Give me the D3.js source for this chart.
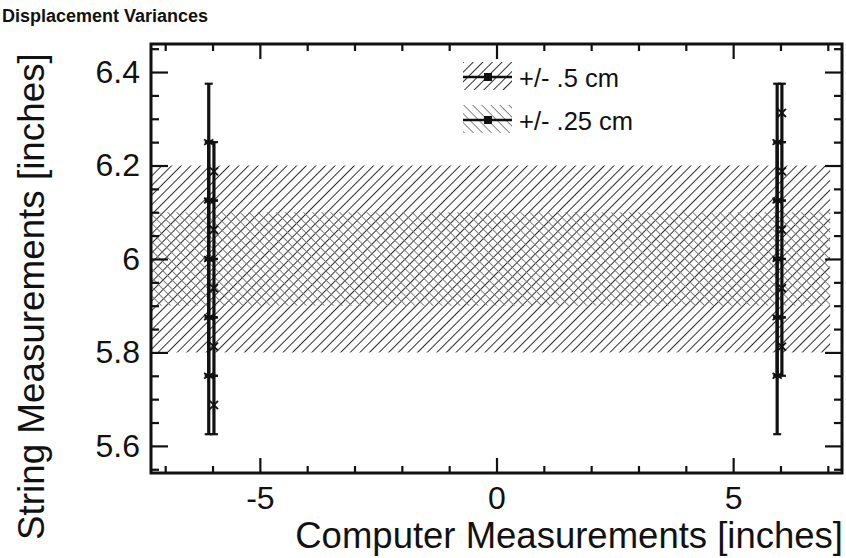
<!DOCTYPE html>
<html>
<head>
<meta charset="utf-8">
<script src="https://cdn.jsdelivr.net/npm/d3@7"></script>
<style>
  body { margin: 0; background: #fff; }
  svg { font-family: "Liberation Sans", Arial, Helvetica, sans-serif; }
</style>
</head>
<body>
<div id="chart"></div>
<script>
const WIDTH = 846;
const HEIGHT = 558;
const margin = {top: 44, right: 4, bottom: 85, left: 151};

// data
const xMajorTicks = [-5, 0, 5];
const xMinorTicks = [-7, -6, -4, -3, -2, -1, 1, 2, 3, 4, 6, 7];
const yMajorTicks = [5.6, 5.8, 6.0, 6.2, 6.4];
const yMinorTicks = [5.55, 5.65, 5.7, 5.75, 5.85, 5.9, 5.95, 6.05, 6.1, 6.15, 6.25, 6.3, 6.35, 6.45];

const halfCmBand = [5.8, 6.2];
const quarterCmBand = [5.9, 6.1];
const bandXExtent = [-7.3, 7.05];

const halfCmX = [-6.08, -6.08, -6.08, -6.08, -6.08, 5.93, 5.93, 5.93, 5.93, 5.93];
const halfCmY = [6.25, 6.125, 6.0, 5.875, 5.75, 6.25, 6.125, 6.0, 5.875, 5.75];
const halfCmErr = [0.125, 0.125, 0.125, 0.125, 0.125, 0.125, 0.125, 0.125, 0.125, 0.125];

const quarterCmX = [-5.97, -5.97, -5.97, -5.97, -5.97, 6.03, 6.03, 6.03, 6.03, 6.03];
const quarterCmY = [6.1875, 6.0625, 5.9375, 5.8125, 5.6875, 6.3125, 6.1875, 6.0625, 5.9375, 5.8125];
const quarterCmErr = [0.0625, 0.0625, 0.0625, 0.0625, 0.0625, 0.0625, 0.0625, 0.0625, 0.0625, 0.0625];

const legendLabels = ['+/- .5 cm', '+/- .25 cm'];

const svg = d3.select('#chart').append('svg')
    .attr('width', WIDTH)
    .attr('height', HEIGHT);

const x = d3.scaleLinear().domain([-7.3, 7.3]).range([margin.left, WIDTH - margin.right]);
const y = d3.scaleLinear().domain([5.542, 6.46]).range([HEIGHT - margin.bottom, margin.top]);

// hatch patterns
const defs = svg.append('defs');
function hatch(id, angle, color, gap, width){
    const p = defs.append('pattern')
        .attr('id', id)
        .attr('patternUnits', 'userSpaceOnUse')
        .attr('width', gap)
        .attr('height', gap)
        .attr('patternTransform', `rotate(${angle})`);
    p.append('line')
        .attr('x1', 0).attr('y1', 0)
        .attr('x2', 0).attr('y2', gap)
        .attr('stroke', color)
        .attr('stroke-width', width);
}
hatch('hatch-half', 45, '#262626', 6.8, 1.9);
hatch('hatch-quarter', -45, '#7a7a7a', 6.4, 1.8);

// bands
svg.append('rect')
    .attr('x', x(bandXExtent[0]))
    .attr('width', x(bandXExtent[1]) - x(bandXExtent[0]))
    .attr('y', y(halfCmBand[1]))
    .attr('height', y(halfCmBand[0]) - y(halfCmBand[1]))
    .attr('fill', 'url(#hatch-half)');

svg.append('rect')
    .attr('x', x(bandXExtent[0]))
    .attr('width', x(bandXExtent[1]) - x(bandXExtent[0]))
    .attr('y', y(quarterCmBand[1]))
    .attr('height', y(quarterCmBand[0]) - y(quarterCmBand[1]))
    .attr('fill', 'url(#hatch-quarter)');

// error bars
function errorBars(xs, ys, errs, marker){
    const data = xs.map((d, i) => ({x: d, y: ys[i], e: errs[i]}));
    const g = svg.append('g');
    g.selectAll('line.bar').data(data).join('line')
        .attr('class', 'bar')
        .attr('x1', d => x(d.x)).attr('x2', d => x(d.x))
        .attr('y1', d => y(d.y + d.e)).attr('y2', d => y(d.y - d.e))
        .attr('stroke', '#111')
        .attr('stroke-width', 3.2);
    g.selectAll('line.cap').data(data.flatMap(d => [{x: d.x, y: d.y + d.e}, {x: d.x, y: d.y - d.e}])).join('line')
        .attr('class', 'cap')
        .attr('x1', d => x(d.x) - 4).attr('x2', d => x(d.x) + 4)
        .attr('y1', d => y(d.y)).attr('y2', d => y(d.y))
        .attr('stroke', '#111')
        .attr('stroke-width', 2.2);
    g.selectAll('path').data(data).join('path')
        .attr('transform', d => `translate(${x(d.x)},${y(d.y)})`)
        .attr('d', marker)
        .attr('fill', '#111')
        .attr('stroke', '#111')
        .attr('stroke-width', 1.8);
}
errorBars(halfCmX, halfCmY, halfCmErr, d3.symbol(d3.symbolAsterisk, 80)());
errorBars(quarterCmX, quarterCmY, quarterCmErr, d3.symbol(d3.symbolTimes, 45)());

// axes
const bottom = HEIGHT - margin.bottom;
const right = WIDTH - margin.right;

function styleAxis(g){
    g.select('.domain').remove();
    g.selectAll('.tick line').attr('stroke', '#111').attr('stroke-width', 2.2);
    g.selectAll('.tick text').attr('fill', '#111').attr('font-size', 32);
}

svg.append('g').attr('transform', `translate(0,${bottom})`)
    .call(d3.axisBottom(x).tickValues(xMajorTicks).tickSize(-15).tickPadding(13).tickFormat(d => String(d)))
    .call(styleAxis);
svg.append('g').attr('transform', `translate(0,${bottom})`)
    .call(d3.axisBottom(x).tickValues(xMinorTicks).tickSize(-7).tickFormat(''))
    .call(styleAxis);
svg.append('g').attr('transform', `translate(0,${margin.top})`)
    .call(d3.axisTop(x).tickValues(xMajorTicks).tickSize(-15).tickFormat(''))
    .call(styleAxis);
svg.append('g').attr('transform', `translate(0,${margin.top})`)
    .call(d3.axisTop(x).tickValues(xMinorTicks).tickSize(-7).tickFormat(''))
    .call(styleAxis);

svg.append('g').attr('transform', `translate(${margin.left},0)`)
    .call(d3.axisLeft(y).tickValues(yMajorTicks).tickSize(-17).tickPadding(11).tickFormat(d => String(d)))
    .call(styleAxis);
svg.append('g').attr('transform', `translate(${margin.left},0)`)
    .call(d3.axisLeft(y).tickValues(yMinorTicks).tickSize(-8).tickFormat(''))
    .call(styleAxis);
svg.append('g').attr('transform', `translate(${right},0)`)
    .call(d3.axisRight(y).tickValues(yMajorTicks).tickSize(-17).tickFormat(''))
    .call(styleAxis);
svg.append('g').attr('transform', `translate(${right},0)`)
    .call(d3.axisRight(y).tickValues(yMinorTicks).tickSize(-8).tickFormat(''))
    .call(styleAxis);

// frame
svg.append('rect')
    .attr('x', margin.left)
    .attr('y', margin.top)
    .attr('width', right - margin.left)
    .attr('height', bottom - margin.top)
    .attr('fill', 'none')
    .attr('stroke', '#111')
    .attr('stroke-width', 3);

// legend
const legend = svg.append('g').attr('transform', 'translate(463,62)');
const legendFills = ['url(#hatch-half)', 'url(#hatch-quarter)'];
const legendRows = legend.selectAll('g').data(legendLabels).join('g')
    .attr('transform', (d, i) => `translate(0,${i * 43})`);
legendRows.append('rect')
    .attr('width', 49).attr('height', 28)
    .attr('fill', (d, i) => legendFills[i]);
legendRows.append('line')
    .attr('x1', 0).attr('x2', 49)
    .attr('y1', 15).attr('y2', 15)
    .attr('stroke', '#111').attr('stroke-width', 2.6);
legendRows.append('rect')
    .attr('x', 21).attr('y', 11).attr('width', 8).attr('height', 8)
    .attr('fill', '#111');
legendRows.append('text')
    .attr('x', 56).attr('y', 25)
    .attr('font-size', 25.5)
    .attr('fill', '#111')
    .text(d => d);

// titles
svg.append('text')
    .attr('x', 2).attr('y', 22)
    .attr('font-size', 18)
    .attr('font-weight', 'bold')
    .attr('fill', '#111')
    .text('Displacement Variances');

svg.append('text')
    .attr('x', right + 1).attr('y', 548)
    .attr('text-anchor', 'end')
    .attr('font-size', 36.5)
    .attr('fill', '#111')
    .text('Computer Measurements [inches]');

svg.append('text')
    .attr('transform', `translate(44,${HEIGHT - 18}) rotate(-90)`)
    .attr('text-anchor', 'start')
    .attr('font-size', 36.8)
    .attr('fill', '#111')
    .text('String Measurements [inches]');
</script>
</body>
</html>
